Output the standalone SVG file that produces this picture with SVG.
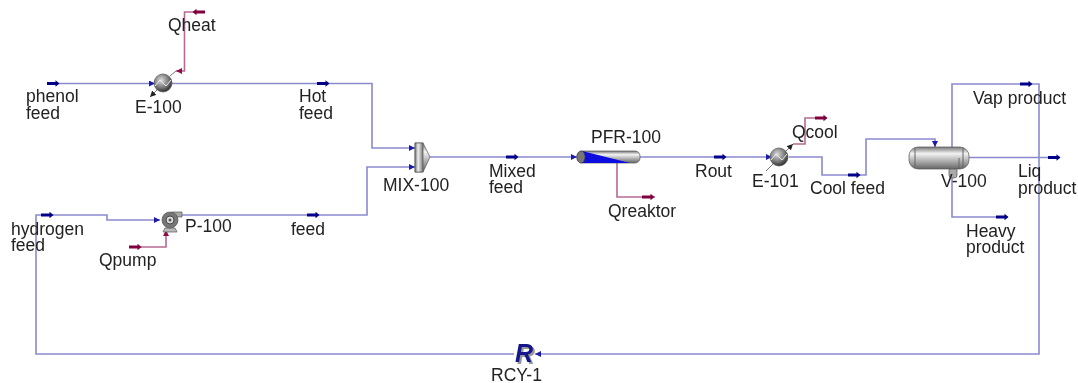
<svg xmlns="http://www.w3.org/2000/svg" width="1078" height="383" viewBox="0 0 1078 383">
<style>
text{font-family:"Liberation Sans",Arial,sans-serif;font-size:17.5px;fill:#222}
svg>g{filter:url(#soft)}
.m{fill:none;stroke:#8a8ad0;stroke-width:1.6}
.e{fill:none;stroke:#b56a92;stroke-width:1.6}
.g{fill:none;stroke:#777;stroke-width:1}
.mh{fill:#000088}
.eh{fill:#80003c}
.o{stroke:#555;stroke-width:.7}
</style>
<defs>
<filter id="soft" x="-5%" y="-5%" width="110%" height="110%"><feGaussianBlur stdDeviation="0.4"/></filter>
<marker id="a" viewBox="0 0 6 6" refX="6" refY="3" markerWidth="6" markerHeight="6" markerUnits="userSpaceOnUse" orient="auto"><path d="M0 0L6 3L0 6Z" fill="#1a1aa8"/></marker>
<marker id="b" viewBox="0 0 6 6" refX="6" refY="3" markerWidth="6" markerHeight="6" markerUnits="userSpaceOnUse" orient="auto"><path d="M0 0L6 3L0 6Z" fill="#90104c"/></marker>
<marker id="k" viewBox="0 0 6 6" refX="6" refY="3" markerWidth="6" markerHeight="6" markerUnits="userSpaceOnUse" orient="auto"><path d="M0 0L6 3L0 6Z" fill="#222"/></marker>
<path id="ms" d="M0 -1.4H8.500V-3.200L12.500 0L8.500 3.200V1.400H0Z"/>
<radialGradient id="ball" cx=".4" cy=".35" r=".7"><stop offset="0" stop-color="#ddd"/><stop offset=".6" stop-color="#777"/><stop offset="1" stop-color="#222"/></radialGradient>
<linearGradient id="vert" x1="0" y1="0" x2="0" y2="1"><stop offset="0" stop-color="#777"/><stop offset=".3" stop-color="#f2f2f2"/><stop offset="1" stop-color="#666"/></linearGradient>
<linearGradient id="horiz" x1="0" y1="0" x2="1" y2="0"><stop offset="0" stop-color="#777"/><stop offset=".4" stop-color="#eee"/><stop offset="1" stop-color="#777"/></linearGradient>
</defs>

<g id="connectors">
<path class="m" d="M47 83.500H155" marker-end="url(#a)"/>
<path class="m" d="M172 83.500H372V148H415" marker-end="url(#a)"/>
<path class="m" d="M180 215H367V167H415" marker-end="url(#a)"/>
<path class="m" d="M430 157H577" marker-end="url(#a)"/>
<path class="m" d="M640 157H772" marker-end="url(#a)"/>
<path class="m" d="M789 157H822V175H866V139H935V147" marker-end="url(#a)"/>
<path class="m" d="M952 147V84H1039V354H535" marker-end="url(#a)"/>
<path class="m" d="M969 157.500H1060"/>
<path class="m" d="M952 169V217H1008"/>
<path class="m" d="M514 354H36V215H107V220H160" marker-end="url(#a)"/>
<path class="e" d="M205 12H184.500V71H176" marker-end="url(#b)"/>
<path class="g" d="M176 71L170 76"/>
<path class="e" d="M129 247H166V230" marker-end="url(#b)"/>
<path class="e" d="M617 163V197H655"/>
<path class="e" d="M793 144H805V118H827"/>
<path class="g" d="M786 151L793 144" marker-end="url(#k)"/>
<path class="g" d="M157 90L150 97" marker-end="url(#k)"/>
<path class="g" d="M774 163L766 171"/>
<g id="stream-markers">
<use href="#ms" class="mh" x="47" y="83.500"/>
<use href="#ms" class="mh" x="317" y="83.500"/>
<use href="#ms" class="mh" x="41" y="215"/>
<use href="#ms" class="mh" x="307" y="215"/>
<use href="#ms" class="mh" x="506" y="157"/>
<use href="#ms" class="mh" x="714" y="157"/>
<use href="#ms" class="mh" x="848" y="175"/>
<use href="#ms" class="mh" x="1020" y="84"/>
<use href="#ms" class="mh" x="1048" y="157.500"/>
<use href="#ms" class="mh" x="996" y="217"/>
<use href="#ms" class="eh" transform="translate(205 12) rotate(180)"/>
<use href="#ms" class="eh" x="129" y="247"/>
<use href="#ms" class="eh" x="642" y="197"/>
<use href="#ms" class="eh" x="815" y="118"/>
</g>
</g>

<g id="phenol-feed"><text x="26" y="102">phenol</text><text x="26" y="119">feed</text></g>
<g id="hot-feed"><text x="299" y="102">Hot</text><text x="299" y="119">feed</text></g>
<g id="hydrogen-feed"><text x="11" y="235">hydrogen</text><text x="11" y="251">feed</text></g>
<g id="feed"><text x="291" y="235">feed</text></g>
<g id="mixed-feed"><text x="489" y="177">Mixed</text><text x="489" y="193">feed</text></g>
<g id="rout"><text x="695" y="177">Rout</text></g>
<g id="cool-feed"><text x="810" y="194">Cool feed</text></g>
<g id="vap-product"><text x="973" y="104">Vap product</text></g>
<g id="liq-product"><text x="1018" y="177">Liq</text><text x="1018" y="194">product</text></g>
<g id="heavy-product"><text x="966" y="237">Heavy</text><text x="966" y="253">product</text></g>
<g id="qheat"><text x="168" y="31">Qheat</text></g>
<g id="qpump"><text x="99" y="266">Qpump</text></g>
<g id="qreaktor"><text x="608" y="217">Qreaktor</text></g>
<g id="qcool"><text x="792" y="138">Qcool</text></g>

<g id="E-100">
<circle cx="163" cy="83" r="9" fill="url(#ball)" class="o"/>
<path d="M155 86L160 80L166 86L171 80" fill="none" stroke="#eee" stroke-width="1"/>
<text x="135" y="113">E-100</text>
</g>
<g id="P-100">
<path d="M163 232L165 228H175L177 232Z" fill="#bbb" class="o"/>
<path d="M172 212H182V217H172Z" fill="#aaa" class="o"/>
<circle cx="170" cy="220" r="8" fill="#777" class="o"/>
<circle cx="170" cy="220" r="4" fill="#ddd" stroke="#444"/>
<circle cx="170" cy="220" r="1.500" fill="#555"/>
<text x="185" y="232">P-100</text>
</g>
<g id="MIX-100">
<path d="M415 143H423L430 157L423 172H415Z" fill="url(#vert)" class="o"/>
<rect x="415" y="143" width="8" height="29" fill="url(#horiz)" class="o"/>
<text x="383" y="191">MIX-100</text>
</g>
<g id="PFR-100">
<rect x="577" y="151" width="63" height="12" rx="5" fill="url(#vert)" class="o"/>
<path d="M582 151L630 163H582Z" fill="#0a0ae0"/>
<ellipse cx="581" cy="157" rx="4" ry="6" fill="#777" stroke="#444" stroke-width=".7"/>
<text x="591" y="143">PFR-100</text>
</g>
<g id="E-101">
<circle cx="779" cy="157" r="9" fill="url(#ball)" class="o"/>
<path d="M771 160L776 154L782 160L787 154" fill="none" stroke="#eee" stroke-width="1"/>
<text x="752" y="187">E-101</text>
</g>
<g id="V-100">
<rect x="949" y="167" width="8" height="11" rx="3" fill="#aaa" class="o"/>
<rect x="909" y="147" width="60" height="22" rx="9" fill="url(#vert)" class="o"/>
<path d="M915 148V168M963 148V168M959 158V168" stroke="#666" stroke-width="1" fill="none"/>
<text x="941" y="187">V-100</text>
</g>
<g id="RCY-1">
<text x="517" y="364" style="font-size:25px;font-weight:bold;font-style:italic;fill:#999">R</text>
<text x="515" y="362" style="font-size:25px;font-weight:bold;font-style:italic;fill:#14148c">R</text>
<text x="491" y="381">RCY-1</text>
</g>
</svg>
